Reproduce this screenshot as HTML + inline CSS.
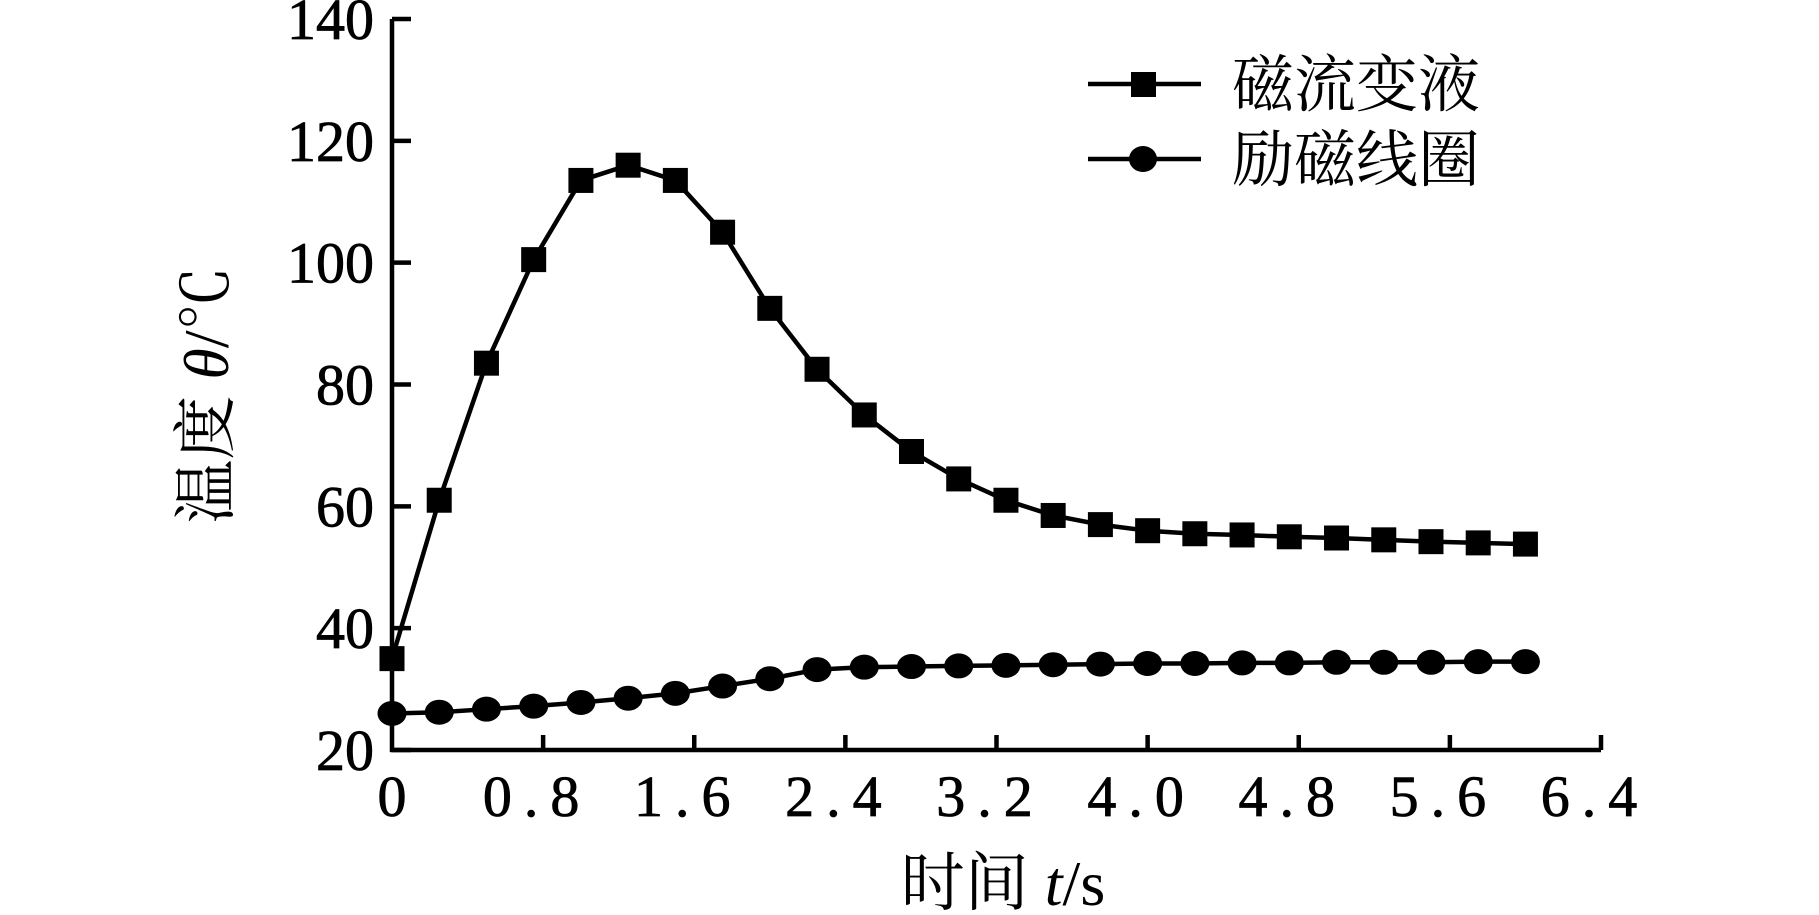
<!DOCTYPE html>
<html><head><meta charset="utf-8"><style>
html,body{margin:0;padding:0;background:#fff;}
svg text{font-family:"Liberation Serif","Noto Serif CJK SC",serif;fill:#000;}
</style></head><body>
<svg width="1819" height="910" viewBox="0 0 1819 910" xmlns="http://www.w3.org/2000/svg">
<g id="axes"></g>
<g id="series"></g>
<g>
 <line x1="1088" y1="84" x2="1201" y2="84" stroke="#000" stroke-width="4.5"/>
 <rect x="1131" y="72" width="25" height="25" fill="#000"/>
 <text x="1232" y="106" font-size="62">磁流变液</text>
 <line x1="1088" y1="159" x2="1201" y2="159" stroke="#000" stroke-width="4.5"/>
 <ellipse cx="1143" cy="159" rx="14" ry="13" fill="#000"/>
 <text x="1232" y="181" font-size="62">励磁线圈</text>
</g>
<text x="1003" y="905" font-size="64" text-anchor="middle">时间 <tspan font-style="italic">t</tspan>/s</text>
<text transform="translate(228,395) rotate(-90)" font-size="64" text-anchor="middle">温度 <tspan font-style="italic">θ</tspan>/℃</text>
</svg>
<script>
const times=[0,0.25,0.5,0.75,1,1.25,1.5,1.75,2,2.25,2.5,2.75,3,3.25,3.5,3.75,4,4.25,4.5,4.75,5,5.25,5.5,5.75,6];
const mrfTemps=[35,61,83.5,100.5,113.5,116,113.5,105,92.5,82.5,75,69,64.5,61,58.5,57,56,55.5,55.3,55,54.8,54.5,54.2,54,53.8];
const coilTemps=[26,26.2,26.7,27.2,27.8,28.5,29.3,30.5,31.7,33.2,33.6,33.7,33.8,33.9,34,34.1,34.2,34.2,34.3,34.3,34.4,34.4,34.4,34.5,34.5];
const xTicks=[0,0.8,1.6,2.4,3.2,4.0,4.8,5.6,6.4];
const xTickLabels=["0","0.8","1.6","2.4","3.2","4.0","4.8","5.6","6.4"];
const yTicks=[20,40,60,80,100,120,140];
const yTickLabels=["20","40","60","80","100","120","140"];
const NS="http://www.w3.org/2000/svg";
const X0=392,X1=1601,Y0=750,Y1=19;
function xs(v){return X0+(v-0)/(6.4-0)*(X1-X0);}
function ys(v){return Y0-(v-20)/(140-20)*(Y0-Y1);}
function mk(tag,attrs,parent){const e=document.createElementNS(NS,tag);for(const k in attrs)e.setAttribute(k,attrs[k]);parent.appendChild(e);return e;}
const axes=document.getElementById('axes');
let a=mk('line',{x1:X0,y1:Y1,x2:X0,y2:Y0+2,stroke:'#000','stroke-width':4.5},axes);


a=mk('line',{x1:X0-2,y1:Y0,x2:X1,y2:Y0,stroke:'#000','stroke-width':4.5},axes);


xTicks.forEach((v,i)=>{
 if(i>0){const t=mk('line',{x1:xs(v),y1:Y0,x2:xs(v),y2:Y0-15,stroke:'#000','stroke-width':4.5},axes);
 
 }
 const l=mk('text',{x:xs(v)+(i===0?0:-6),y:Y0+66,'font-size':58,'text-anchor':'middle','letter-spacing':i===0?0:'12','stroke':'#000','stroke-width':0.8},axes);
 l.textContent=xTickLabels[i];
 
 
});
yTicks.forEach((v,i)=>{
 const t=mk('line',{x1:X0,y1:ys(v),x2:X0+19,y2:ys(v),stroke:'#000','stroke-width':4.5},axes);
 
 
 const l=mk('text',{x:X0-18,y:ys(v)+20,'font-size':58,'text-anchor':'end','stroke':'#000','stroke-width':0.8},axes);
 l.textContent=yTickLabels[i];
 
 
});
const ser=document.getElementById('series');
function drawSeries(vals,name,shape){
 const pts=times.map((t,i)=>xs(t)+','+ys(vals[i])).join(' ');
 const p=mk('polyline',{points:pts,fill:'none',stroke:'#000','stroke-width':4.5},ser);
 
 
 times.forEach((t,i)=>{
  let m;
  if(shape==='square') m=mk('rect',{x:xs(t)-12.5,y:ys(vals[i])-12.5,width:25,height:25,fill:'#000'},ser);
  else m=mk('ellipse',{cx:xs(t),cy:ys(vals[i]),rx:14.5,ry:12.5,fill:'#000'},ser);
  
  
 });
}
drawSeries(mrfTemps,'mrf','square');
drawSeries(coilTemps,'coil','circle');
</script>
</body></html>
